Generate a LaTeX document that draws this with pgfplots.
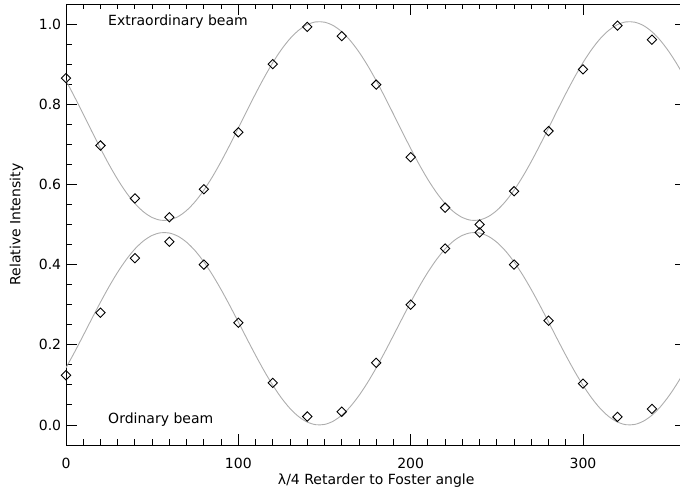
\documentclass[border=0pt]{standalone}
\usepackage{pgfplots}
\pgfplotsset{compat=1.18}
\usepackage{pgfplotstable}
\usepackage{fontspec}
\setmainfont{DejaVu Sans}

% measured points: angle, extraordinary, ordinary
\pgfplotstableread{
x   e      o
0   0.865  0.124
20  0.697  0.280
40  0.565  0.416
60  0.518  0.457
80  0.588  0.400
100 0.730  0.255
120 0.900  0.105
140 0.993  0.021
160 0.970  0.033
180 0.849  0.155
200 0.668  0.300
220 0.542  0.440
240 0.500  0.480
260 0.583  0.400
280 0.733  0.260
300 0.887  0.103
320 0.996  0.020
340 0.961  0.040
}\pts

% fitted curves, read off every 5 degrees
\pgfplotstableread{
x   e      o
0   0.8589 0.1424
5   0.8180 0.1819
10  0.7753 0.2232
15  0.7321 0.2651
20  0.6897 0.3061
25  0.6493 0.3452
30  0.6122 0.3811
35  0.5796 0.4126
40  0.5524 0.4390
45  0.5315 0.4592
50  0.5174 0.4729
55  0.5106 0.4794
60  0.5114 0.4787
65  0.5196 0.4707
70  0.5351 0.4557
75  0.5574 0.4342
80  0.5857 0.4067
85  0.6193 0.3742
90  0.6571 0.3376
95  0.6980 0.2981
100 0.7407 0.2568
105 0.7839 0.2149
110 0.8263 0.1739
115 0.8667 0.1348
120 0.9038 0.0989
125 0.9364 0.0674
130 0.9636 0.0410
135 0.9845 0.0208
140 0.9986 0.0071
145 1.0054 0.0006
150 1.0046 0.0013
155 0.9964 0.0093
160 0.9809 0.0243
165 0.9586 0.0458
170 0.9303 0.0733
175 0.8967 0.1058
180 0.8589 0.1424
185 0.8180 0.1819
190 0.7753 0.2232
195 0.7321 0.2651
200 0.6897 0.3061
205 0.6493 0.3452
210 0.6122 0.3811
215 0.5796 0.4126
220 0.5524 0.4390
225 0.5315 0.4592
230 0.5174 0.4729
235 0.5106 0.4794
240 0.5114 0.4787
245 0.5196 0.4707
250 0.5351 0.4557
255 0.5574 0.4342
260 0.5857 0.4067
265 0.6193 0.3742
270 0.6571 0.3376
275 0.6980 0.2981
280 0.7407 0.2568
285 0.7839 0.2149
290 0.8263 0.1739
295 0.8667 0.1348
300 0.9038 0.0989
305 0.9364 0.0674
310 0.9636 0.0410
315 0.9845 0.0208
320 0.9986 0.0071
325 1.0054 0.0006
330 1.0046 0.0013
335 0.9964 0.0093
340 0.9809 0.0243
345 0.9586 0.0458
350 0.9303 0.0733
355 0.8967 0.1058
360 0.8589 0.1424
}\fit

\begin{document}
\fontsize{14}{16}\selectfont
\begin{tikzpicture}
  \begin{axis}[
    scale only axis,
    width=620.4pt, height=441pt,
    xmin=0, xmax=360,
    ymin=-0.05, ymax=1.05,
    xtick={0,100,200,300},
    ytick={0,0.2,0.4,0.6,0.8,1.0},
    minor x tick num=9,
    minor y tick num=3,
    tick style={black, line width=0.9pt},
    major tick length=11pt,
    minor tick length=5.5pt,
    yticklabels={0.0,0.2,0.4,0.6,0.8,1.0},
    xticklabels={0,100,200,300},
    xticklabel style={yshift=-8pt},
    xlabel={λ/4 Retarder to Foster angle},
    ylabel={Relative Intensity},
    xlabel style={yshift=4pt},
    ylabel style={yshift=6pt},
  ]
    \addplot[smooth, color=black!32, line width=0.9pt] table[x=x, y=e] {\fit};
    \addplot[smooth, color=black!32, line width=0.9pt] table[x=x, y=o] {\fit};
    \addplot[only marks, mark=square, mark size=3.3pt,
      mark options={rotate=45, black, line width=0.9pt, fill=white}] table[x=x, y=e] {\pts};
    \addplot[only marks, mark=square, mark size=3.3pt,
      mark options={rotate=45, black, line width=0.9pt, fill=white}] table[x=x, y=o] {\pts};
    \node[anchor=west, inner sep=0pt] at (axis cs:24.4,1.007) {Extraordinary beam};
    \node[anchor=west, inner sep=0pt] at (axis cs:24.4,0.0125) {Ordinary beam};
  \end{axis}
  \pgfresetboundingbox
  \path[use as bounding box] (-66pt,-47pt) rectangle (614pt,445pt);
\end{tikzpicture}
\end{document}
